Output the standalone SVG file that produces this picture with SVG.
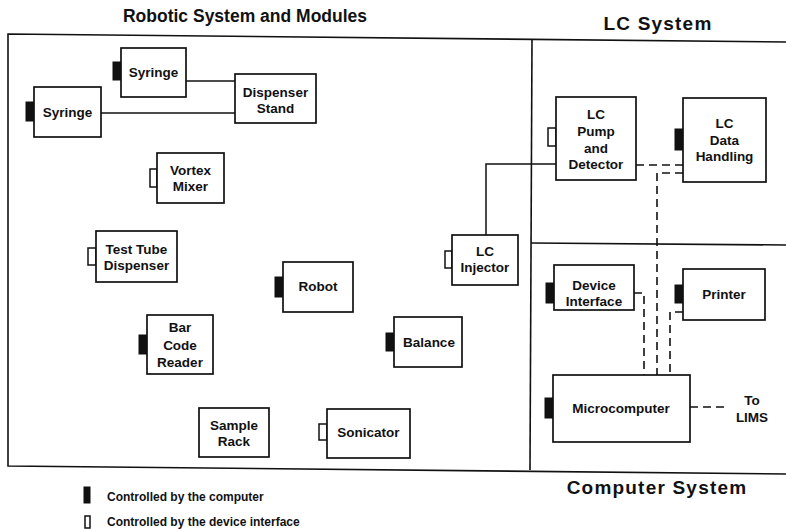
<svg xmlns="http://www.w3.org/2000/svg" width="786" height="529" viewBox="0 0 786 529">
<style>
.box{fill:#fff;stroke:#111;stroke-width:1.7}
.ctab{fill:#111;stroke:#111;stroke-width:1}
.dtab{fill:#fff;stroke:#111;stroke-width:1.5}
.frame{fill:none;stroke:#111;stroke-width:1.6}
.ln{fill:none;stroke:#111;stroke-width:1.5}
.dash{fill:none;stroke:#111;stroke-width:1.6;stroke-dasharray:8 5}
text{font-family:"Liberation Sans",Arial,sans-serif;font-weight:bold;fill:#111}
.lbl{font-size:13.5px;text-anchor:middle}
.title{font-size:17.5px;text-anchor:middle}
.title2{font-size:19px;letter-spacing:1.2px;text-anchor:middle}
.leg{font-size:12px}
</style>
<rect width="786" height="529" fill="#fff"/>
<g id="titles">
<text class="title" x="245" y="22">Robotic System and Modules</text>
<text class="title2" x="658" y="29.5">LC System</text>
<text class="title2" x="657" y="493.5">Computer System</text>
</g>
<g id="frame">
<polyline class="frame" points="786,42 8,34 8,466 786,474"/>
<line class="frame" x1="532" y1="39.5" x2="530" y2="470"/>
<line class="frame" x1="531" y1="243" x2="786" y2="245"/>
</g>
<g id="connectors">
<polyline class="ln" points="186,81 235,81"/>
<polyline class="ln" points="101,113 235,113"/>
<polyline class="ln" points="486,235 486,164 556,164"/>
<polyline class="dash" points="636,165 683,165"/>
<polyline class="dash" points="683,173 657,173 657,375"/>
<polyline class="dash" points="634,293 644,293 644,375"/>
<polyline class="dash" points="683,312 670,312 670,375"/>
<polyline class="dash" points="690,407 726,407"/>
</g>
<g id="syringe1">
<rect class="ctab" x="113" y="62" width="8" height="18"/>
<rect class="box" x="121" y="48" width="65" height="49"/>
<text class="lbl" x="153.5" y="77">Syringe</text>
</g>
<g id="syringe2">
<rect class="ctab" x="26" y="102" width="8" height="19"/>
<rect class="box" x="34" y="87" width="67" height="50"/>
<text class="lbl" x="67.5" y="117">Syringe</text>
</g>
<g id="dispenser-stand">
<rect class="box" x="235" y="74" width="81" height="49"/>
<text class="lbl" x="275.5" y="96.5">Dispenser</text>
<text class="lbl" x="275.5" y="113">Stand</text>
</g>
<g id="vortex-mixer">
<rect class="dtab" x="150" y="169" width="7" height="18"/>
<rect class="box" x="157" y="153" width="67" height="50"/>
<text class="lbl" x="190.5" y="175">Vortex</text>
<text class="lbl" x="190.5" y="191">Mixer</text>
</g>
<g id="test-tube-dispenser">
<rect class="dtab" x="88" y="248" width="8" height="17"/>
<rect class="box" x="96" y="231" width="81" height="51"/>
<text class="lbl" x="136.5" y="254">Test Tube</text>
<text class="lbl" x="136.5" y="270">Dispenser</text>
</g>
<g id="robot">
<rect class="ctab" x="275" y="277" width="8" height="20"/>
<rect class="box" x="283" y="262" width="70" height="50"/>
<text class="lbl" x="318" y="291">Robot</text>
</g>
<g id="bar-code-reader">
<rect class="ctab" x="139" y="335" width="8" height="19"/>
<rect class="box" x="147" y="315" width="66" height="59"/>
<text class="lbl" x="180" y="332">Bar</text>
<text class="lbl" x="180" y="349.5">Code</text>
<text class="lbl" x="180" y="367">Reader</text>
</g>
<g id="sample-rack">
<rect class="box" x="199" y="408" width="70" height="49"/>
<text class="lbl" x="234" y="430">Sample</text>
<text class="lbl" x="234" y="446">Rack</text>
</g>
<g id="sonicator">
<rect class="dtab" x="319" y="424" width="8" height="16"/>
<rect class="box" x="327" y="409" width="83" height="49"/>
<text class="lbl" x="368.5" y="437">Sonicator</text>
</g>
<g id="balance">
<rect class="ctab" x="386" y="333" width="8" height="18"/>
<rect class="box" x="394" y="317" width="68" height="50"/>
<text class="lbl" x="429" y="346.5">Balance</text>
</g>
<g id="lc-injector">
<rect class="dtab" x="445" y="251" width="7" height="17"/>
<rect class="box" x="452" y="235" width="66" height="50"/>
<text class="lbl" x="485" y="256">LC</text>
<text class="lbl" x="485" y="271.5">Injector</text>
</g>
<g id="lc-pump-detector">
<rect class="dtab" x="548" y="128" width="8" height="18"/>
<rect class="box" x="556" y="97" width="80" height="83"/>
<text class="lbl" x="596" y="119">LC</text>
<text class="lbl" x="596" y="136">Pump</text>
<text class="lbl" x="596" y="152.5">and</text>
<text class="lbl" x="596" y="169">Detector</text>
</g>
<g id="lc-data-handling">
<rect class="ctab" x="675" y="129" width="8" height="21"/>
<rect class="box" x="683" y="98" width="83" height="84"/>
<text class="lbl" x="724.5" y="127.5">LC</text>
<text class="lbl" x="724.5" y="144.5">Data</text>
<text class="lbl" x="724.5" y="161">Handling</text>
</g>
<g id="device-interface">
<rect class="ctab" x="546" y="283" width="8" height="20"/>
<rect class="box" x="554" y="265" width="80" height="45"/>
<text class="lbl" x="594" y="289.5">Device</text>
<text class="lbl" x="594" y="306">Interface</text>
</g>
<g id="printer">
<rect class="ctab" x="675" y="285" width="8" height="18"/>
<rect class="box" x="683" y="269" width="82" height="51"/>
<text class="lbl" x="724" y="299">Printer</text>
</g>
<g id="microcomputer">
<rect class="ctab" x="545" y="398" width="8" height="20"/>
<rect class="box" x="553" y="375" width="137" height="67"/>
<text class="lbl" x="621" y="413">Microcomputer</text>
</g>
<g id="to-lims">
<text class="lbl" x="752" y="405">To</text>
<text class="lbl" x="752" y="421.5">LIMS</text>
</g>
<g id="legend">
<rect class="ctab" x="84" y="487" width="6" height="16"/>
<text class="leg" x="107" y="501">Controlled by the computer</text>
<rect class="dtab" x="85" y="516" width="5" height="12"/>
<text class="leg" x="107" y="526">Controlled by the device interface</text>
</g>
</svg>
